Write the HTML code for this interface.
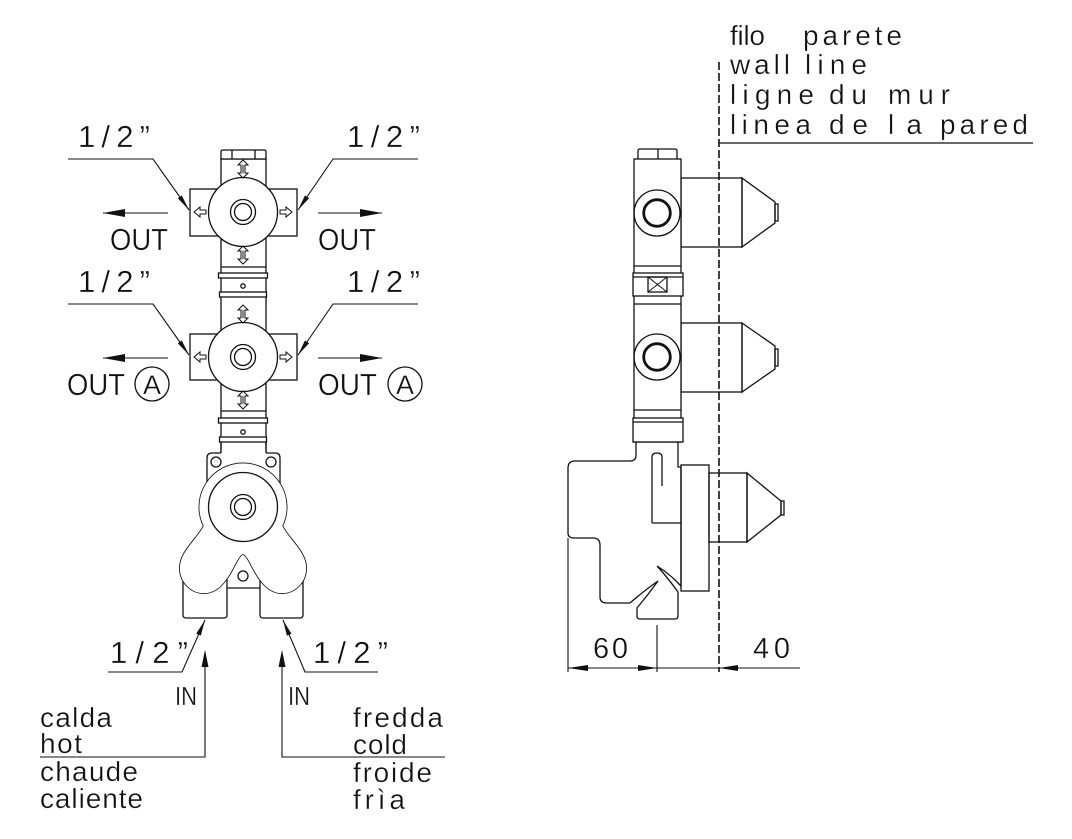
<!DOCTYPE html>
<html><head><meta charset="utf-8"><style>
html,body{margin:0;padding:0;background:#fff;}
svg{display:block;}
text{font-family:"Liberation Sans",sans-serif;fill:#111;stroke:#fff;stroke-width:0.3px;}
</style></head><body>
<svg width="1072" height="839" viewBox="0 0 1072 839" xmlns="http://www.w3.org/2000/svg">
<defs>
<path id="dv" d="M0,-9 L5,-4 L2,-4 L2,4 L5,4 L0,9 L-5,4 L-2,4 L-2,-4 L-5,-4 Z M0,-4 L0,4"/>
<path id="ra" d="M-6,-2 L0,-2 L0,-5 L6,0 L0,5 L0,2 L-6,2 Z"/>
<path id="la" d="M6,-2 L0,-2 L0,-5 L-6,0 L0,5 L0,2 L6,2 Z"/>
</defs>
<rect width="1072" height="839" fill="#fff"/>

<!-- ============ FRONT VIEW ============ -->
<g stroke="#111" stroke-width="1.3" fill="none">
  <rect x="221" y="159" width="45" height="294" fill="#fff"/>
  <path d="M221,159 L221,152 Q221,150 223,150 L264,150 Q266,150 266,152 L266,159 Z" fill="#fff"/>
  <line x1="232" y1="150" x2="232" y2="159"/>
  <line x1="255" y1="150" x2="255" y2="159"/>
  <line x1="221" y1="267" x2="266" y2="267"/>
  <rect x="218.5" y="273" width="49" height="5" fill="#fff"/>
  <circle cx="243" cy="286" r="2.2"/>
  <rect x="219.5" y="292" width="47" height="5" fill="#fff"/>
  <line x1="221" y1="411" x2="266" y2="411"/>
  <rect x="218.5" y="418" width="49" height="5" fill="#fff"/>
  <circle cx="243" cy="432" r="2.2"/>
  <rect x="219.5" y="437" width="47" height="5" fill="#fff"/>

  <g>
    <rect x="190" y="189" width="107" height="47" fill="#fff"/>
    <circle cx="243" cy="212" r="34.5" fill="#fff"/>
    <circle cx="243" cy="212" r="12.5"/>
    <circle cx="243" cy="212" r="8.5"/>
    <use href="#dv" x="243" y="169" stroke-width="1"/>
    <use href="#dv" x="243" y="255" stroke-width="1"/>
    <use href="#la" x="200" y="212" stroke-width="1"/>
    <use href="#ra" x="286" y="212" stroke-width="1"/>
  </g>
  <g transform="translate(0,145)">
    <rect x="190" y="189" width="107" height="46" fill="#fff"/>
    <circle cx="243" cy="212" r="34.5" fill="#fff"/>
    <circle cx="243" cy="212" r="12.5"/>
    <circle cx="243" cy="212" r="8.5"/>
    <use href="#dv" x="243" y="169" stroke-width="1"/>
    <use href="#dv" x="243" y="255" stroke-width="1"/>
    <use href="#la" x="200" y="212" stroke-width="1"/>
    <use href="#ra" x="286" y="212" stroke-width="1"/>
  </g>

  <path d="M207,505 L207,458 Q207,453 212,453 L275,453 Q280,453 280,458 L280,505" fill="#fff"/>
  <rect x="221" y="449" width="45" height="8" fill="#fff" stroke="none"/>
  <line x1="221" y1="442" x2="221" y2="453"/>
  <line x1="266" y1="442" x2="266" y2="453"/>
  <circle cx="216" cy="462" r="5"/>
  <circle cx="271" cy="462" r="5"/>

  <path d="M183,570 L183,615 Q183,618 186,618 L224,618 Q227,618 227,615 L227,570" fill="#fff"/>
  <path d="M260,570 L260,615 Q260,618 263,618 L300,618 Q303,618 303,615 L303,570" fill="#fff"/>
  <line x1="227" y1="588" x2="260" y2="588"/>

  <path d="M205,526 C198,540 181,552 181,568 C181,582 192,592 204,592 C217,592 226,580 233,566 C237,558 240,553 243,553 C246,553 249,558 253,566 C260,580 269,592 282,592 C294,592 305,582 305,568 C305,552 288,540 281,526 A42.5,42.5 0 1 0 205,526 Z" fill="#fff" stroke-width="4"/>
  <path d="M205,526 C198,540 181,552 181,568 C181,582 192,592 204,592 C217,592 226,580 233,566 C237,558 240,553 243,553 C246,553 249,558 253,566 C260,580 269,592 282,592 C294,592 305,582 305,568 C305,552 288,540 281,526 A42.5,42.5 0 1 0 205,526 Z" fill="#fff" stroke="#fff" stroke-width="2.3"/>
  <circle cx="243" cy="507" r="34.5"/>
  <circle cx="243" cy="507" r="12.5"/>
  <circle cx="243" cy="507" r="8.5"/>
  <circle cx="243" cy="576" r="5"/>
</g>

<g stroke="#111" stroke-width="1.1" fill="none">
  <polyline points="68,159 153,159 189,210"/>
  <polyline points="418,159 333,159 298,210"/>
  <polyline points="68,304 153,304 189,355"/>
  <polyline points="418,304 333,304 298,355"/>
  <line x1="103" y1="213" x2="168" y2="213"/>
  <line x1="318" y1="213" x2="382" y2="213"/>
  <line x1="103" y1="358" x2="168" y2="358"/>
  <line x1="318" y1="358" x2="382" y2="358"/>
  <polyline points="108,672 182,672 205,620"/>
  <polyline points="378,672 305,672 283,620"/>
  <polyline points="40,757 205,757 205,652"/>
  <polyline points="445,757 282,757 282,652"/>
</g>
<g fill="#111" stroke="none">
  <polygon points="189,210 177.8,198.3 181.8,195.5"/>
  <polygon points="298,210 309.1,198.2 305.0,195.4"/>
  <polygon points="189,355 177.8,343.3 181.8,340.5"/>
  <polygon points="298,355 309.1,343.2 305.0,340.4"/>
  <polygon points="103,213 125,209 125,217"/>
  <polygon points="382,213 360,209 360,217"/>
  <polygon points="103,358 125,354 125,362"/>
  <polygon points="382,358 360,354 360,362"/>
  <polygon points="205,620 200.8,635.6 196.2,633.6"/>
  <polygon points="283,620 291.5,633.7 286.9,635.7"/>
  <polygon points="205,650 201.5,667 208.5,667"/>
  <polygon points="282,650 278.5,667 285.5,667"/>
</g>
<circle cx="152" cy="384" r="17" fill="none" stroke="#111" stroke-width="1.3"/>
<circle cx="405" cy="384" r="17" fill="none" stroke="#111" stroke-width="1.3"/>

<g font-size="31">
  <text x="78" y="147" textLength="72" lengthAdjust="spacing">1/2”</text>
  <text x="347" y="147" textLength="73" lengthAdjust="spacing">1/2”</text>
  <text x="78" y="292" textLength="72" lengthAdjust="spacing">1/2”</text>
  <text x="347" y="292" textLength="73" lengthAdjust="spacing">1/2”</text>
  <text x="110" y="663" textLength="78" lengthAdjust="spacing">1/2”</text>
  <text x="313" y="663" textLength="75" lengthAdjust="spacing">1/2”</text>
</g>
<g font-size="31">
  <text x="110" y="250" textLength="58" lengthAdjust="spacingAndGlyphs">OUT</text>
  <text x="318" y="250" textLength="58" lengthAdjust="spacingAndGlyphs">OUT</text>
  <text x="67" y="395" textLength="58" lengthAdjust="spacingAndGlyphs">OUT</text>
  <text x="318" y="395" textLength="59" lengthAdjust="spacingAndGlyphs">OUT</text>
</g>
<g font-size="27" text-anchor="middle">
  <text x="152" y="394">A</text>
  <text x="405" y="394">A</text>
</g>
<g font-size="26">
  <text x="175" y="705" textLength="22" lengthAdjust="spacingAndGlyphs">IN</text>
  <text x="288" y="705" textLength="22" lengthAdjust="spacingAndGlyphs">IN</text>
</g>
<g font-size="28">
  <text x="40" y="727" textLength="72" lengthAdjust="spacing">calda</text>
  <text x="40" y="753" textLength="42" lengthAdjust="spacing">hot</text>
  <text x="40" y="781" textLength="98" lengthAdjust="spacing">chaude</text>
  <text x="40" y="808" textLength="103" lengthAdjust="spacing">caliente</text>
  <text x="353" y="727" textLength="90" lengthAdjust="spacing">fredda</text>
  <text x="353" y="754" textLength="54" lengthAdjust="spacing">cold</text>
  <text x="353" y="782" textLength="79" lengthAdjust="spacing">froide</text>
  <text x="353" y="809" textLength="52" lengthAdjust="spacing">frìa</text>
</g>

<!-- ============ SIDE VIEW ============ -->
<g stroke="#111" stroke-width="1.3" fill="none">
  <rect x="681" y="178" width="61" height="69"/>
  <polygon points="742,178 775,202 775,223 742,247"/>
  <rect x="775" y="204" width="3" height="17"/>
  <rect x="681" y="323" width="61" height="69"/>
  <polygon points="742,323 775,346 775,369 742,392"/>
  <rect x="775" y="349" width="3" height="17"/>
  <rect x="681" y="465" width="28" height="126"/>
  <rect x="709" y="473" width="38" height="69"/>
  <polygon points="747,473 781,501 781,515 747,542"/>
  <rect x="781" y="501" width="3" height="14"/>

  <path d="M638,159 L638,151 Q638,149 640,149 L675,149 Q677,149 677,151 L677,159"/>
  <line x1="658" y1="149" x2="658" y2="159"/>
  <rect x="634" y="159" width="47" height="283" fill="#fff"/>
  <circle cx="657" cy="213" r="23"/>
  <circle cx="657" cy="213" r="13.3" stroke-width="2.8"/>
  <circle cx="657" cy="357" r="23"/>
  <circle cx="657" cy="357" r="13.3" stroke-width="2.8"/>
  <line x1="634" y1="266" x2="681" y2="266"/>
  <rect x="633" y="273" width="50" height="23" fill="#fff"/>
  <line x1="633" y1="277" x2="683" y2="277"/>
  <line x1="634" y1="304" x2="681" y2="304"/>
  <rect x="648" y="277" width="19" height="15"/>
  <line x1="648" y1="277" x2="667" y2="292" stroke-width="1"/>
  <line x1="667" y1="277" x2="648" y2="292" stroke-width="1"/>
  <line x1="634" y1="410" x2="681" y2="410"/>
  <rect x="633" y="418" width="50" height="24" fill="#fff"/>
  <line x1="633" y1="422" x2="683" y2="422"/>

  <path d="M636,442 L636,455 Q636,461 630,461 L575,461 Q568,461 568,468 L568,533 Q568,538 574,538 L593,538 Q600,538 600,545 L600,597 Q600,603 607,603 L630,603"/>
  <path d="M630,603 Q645,590 658,581 Q648,595 637,608 L637,616 Q637,619 640,619 L675,619 Q678,619 678,616 L678,592"/>
  <path d="M678,592 Q668,578 657,566 Q670,574 681,586 L681,467 L678,467 L678,442"/>
  <path d="M652,523 L652,457 Q652,453 657,453 Q662,453 662,457 L662,486"/>
  <line x1="652" y1="523" x2="681" y2="523"/>

  <line x1="568" y1="538" x2="568" y2="672" stroke-width="1.1"/>
  <line x1="657" y1="625" x2="657" y2="672" stroke-width="1.1"/>
  <line x1="568" y1="668" x2="800" y2="668" stroke-width="1.1"/>
</g>
<g fill="#111">
  <polygon points="568,668 588,665 588,671"/>
  <polygon points="657,668 638,665 638,671"/>
  <polygon points="719,668 738,665 738,671"/>
</g>
<line x1="719" y1="62" x2="719" y2="672" stroke="#111" stroke-width="1.6" stroke-dasharray="8 3"/>
<line x1="719" y1="143" x2="1033" y2="143" stroke="#111" stroke-width="1.2"/>

<g font-size="29">
  <text x="593" y="658" textLength="35" lengthAdjust="spacing">60</text>
  <text x="753" y="658" textLength="37" lengthAdjust="spacing">40</text>
</g>
<g font-size="28">
  <text x="730" y="45" textLength="35" lengthAdjust="spacing">filo</text>
  <text x="803" y="45" textLength="99" lengthAdjust="spacing">parete</text>
  <text x="730" y="74" textLength="60" lengthAdjust="spacing">wall</text>
  <text x="805" y="74" textLength="62" lengthAdjust="spacing">line</text>
  <text x="730" y="104" textLength="84" lengthAdjust="spacing">ligne</text>
  <text x="829" y="104" textLength="38" lengthAdjust="spacing">du</text>
  <text x="888" y="104" textLength="62" lengthAdjust="spacing">mur</text>
  <text x="730" y="134" textLength="81" lengthAdjust="spacing">linea</text>
  <text x="829" y="134" textLength="39" lengthAdjust="spacing">de</text>
  <text x="888" y="134" textLength="34" lengthAdjust="spacing">la</text>
  <text x="940" y="134" textLength="88" lengthAdjust="spacing">pared</text>
</g>
</svg>
</body></html>
